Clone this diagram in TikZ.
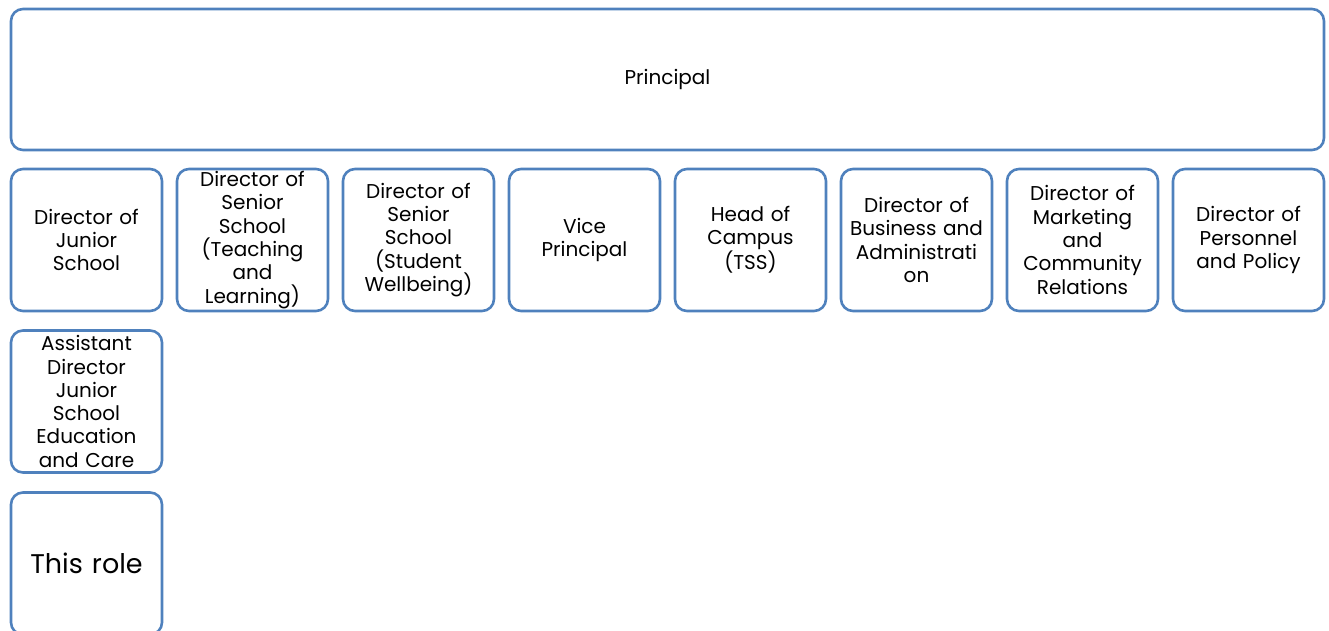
\documentclass[tikz,border=0pt]{standalone}
\usepackage{fontspec}
\usepackage{xcolor}
\setmainfont{Poppins}
\usetikzlibrary{positioning}

\definecolor{roleblue}{RGB}{79,129,189}

\begin{document}
\begin{tikzpicture}[x=1pt, y=-1pt, node distance=166pt,
  role/.style={draw=roleblue, line width=2.6pt, rounded corners=12pt,
    minimum width=151pt, minimum height=142pt, inner sep=0pt,
    text width=150pt, align=center, font=\fontsize{20}{23.3}\selectfont}]
  \useasboundingbox (0,0) rectangle (1329,631);

  \node[role, minimum width=1313pt, minimum height=141pt, text width=1300pt]
                       (principal)                      at (667.5,79.5) {Principal};

  \node[role]          (dirjunior)                      at (86.5,240)   {Director of\\Junior\\School};
  \node[role]          (dirteaching)  [right of=dirjunior]    {Director of\\Senior\\School\\(Teaching\\and\\Learning)};
  \node[role]          (dirwellbeing) [right of=dirteaching]  {Director of\\Senior\\School\\(Student\\Wellbeing)};
  \node[role]          (vice)         [right of=dirwellbeing] {Vice\\Principal};
  \node[role]          (campus)       [right of=vice]         {Head of\\Campus\\(TSS)};
  \node[role]          (dirbusiness)  [right of=campus]       {Director of\\Business and\\Administrati\\on};
  \node[role]          (dirmarketing) [right of=dirbusiness]  {Director of\\Marketing\\and\\Community\\Relations};
  \node[role]          (dirpersonnel) [right of=dirmarketing] {Director of\\Personnel\\and Policy};

  \node[role]          (assistant)    [below of=dirjunior, node distance=161.5pt]
                                                        {Assistant\\Director\\Junior\\School\\Education\\and Care};
  \node[role, font=\fontsize{27}{32}\selectfont]
                       (thisrole)     [below of=assistant, node distance=162pt] {This role};
\end{tikzpicture}
\end{document}
